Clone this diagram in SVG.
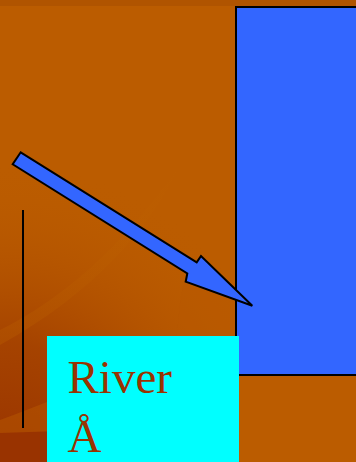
<svg xmlns="http://www.w3.org/2000/svg" width="356" height="462" viewBox="0 0 356 462">
  <defs>
    <radialGradient id="dark" cx="0" cy="462" r="300" gradientUnits="userSpaceOnUse">
      <stop offset="0" stop-color="#993300" stop-opacity="1"/>
      <stop offset="0.4" stop-color="#9c3800" stop-opacity="0.7"/>
      <stop offset="1" stop-color="#bb5c00" stop-opacity="0"/>
    </radialGradient>
    <linearGradient id="swoosh" x1="0" y1="1" x2="1" y2="0">
      <stop offset="0" stop-color="#b65800" stop-opacity="0.9"/>
      <stop offset="1" stop-color="#c26a00" stop-opacity="0"/>
    </linearGradient>
    <style>
      .shape { fill: #3366ff; stroke: #000000; stroke-width: 2; }
      .label { font-family: "Liberation Serif", "Times New Roman", serif; font-size: 47px; fill: #993300; }
    </style>
  </defs>

  <!-- background -->
  <rect x="0" y="0" width="356" height="462" fill="#bb5c00"/>
  <rect x="0" y="0" width="356" height="6" fill="#b05400"/>
  <rect x="0" y="0" width="236" height="462" fill="url(#dark)"/>
  <path d="M0,330 C60,300 120,250 180,165 C150,230 90,295 0,345 Z" fill="url(#swoosh)" opacity="0.5"/>
  <path d="M0,420 C40,405 90,385 130,370 L175,345 C180,320 178,300 185,280 L236,300 L236,462 L0,462 Z" fill="#b85800" opacity="0.5"/>
  <path d="M0,433 L60,431 L60,462 L0,462 Z" fill="#993300"/>

  <g id="blue-box">
    <rect class="shape" x="236" y="7" width="125" height="368"/>
  </g>

  <g id="connectors">
    <line x1="23" y1="210" x2="23" y2="428" stroke="#000000" stroke-width="2"/>
    <polygon class="shape" points="20.7,152.3 196.7,262.4 201,256 252.3,305.7 185.7,281.7 187.3,273.5 12.7,164.3"/>
  </g>

  <g id="river-label">
    <rect x="47" y="336" width="192" height="126" fill="#00ffff"/>
    <text class="label" x="67.5" y="393">River</text>
    <text class="label" x="67.5" y="451.5">Å</text>
  </g>
</svg>
